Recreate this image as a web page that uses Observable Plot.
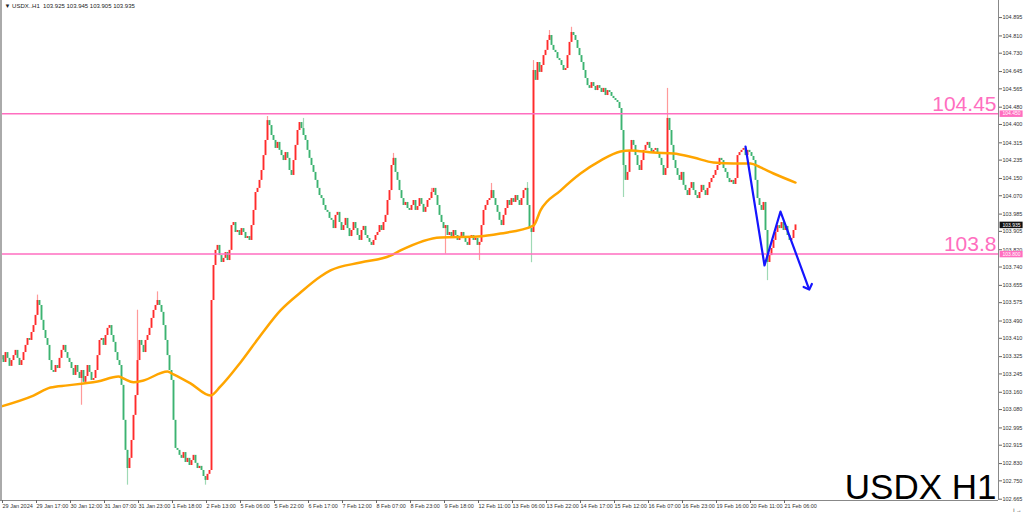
<!DOCTYPE html>
<html><head><meta charset="utf-8">
<script src="https://cdn.jsdelivr.net/npm/d3@7"></script>
<script src="https://cdn.jsdelivr.net/npm/@observablehq/plot@0.6"></script>
<style>html,body{margin:0;padding:0;background:#fff;overflow:hidden}</style>
</head><body><div id="chart"></div>
<script>
// Hourly closes, USDX H1 (one per bar, bar 0 = 29 Jan 2024)
const firstOpen = 103.31;
const closes = [
103.330,103.298,103.344,103.317,103.280,103.307,103.330,103.354,103.317,103.284,
103.307,103.344,103.377,103.409,103.400,103.437,103.469,103.516,103.585,103.562,
103.493,103.446,103.409,103.377,103.307,103.261,103.252,103.284,103.270,103.317,
103.354,103.377,103.344,103.317,103.298,103.270,103.238,103.284,103.252,103.224,
103.261,103.206,103.233,103.284,103.252,103.215,103.224,103.261,103.330,103.400,
103.409,103.377,103.423,103.456,103.469,103.423,103.391,103.344,103.307,103.284,
103.192,103.030,102.891,102.807,102.854,102.937,103.053,103.145,103.307,103.400,
103.377,103.344,103.400,103.423,103.456,103.502,103.539,103.562,103.585,103.562,
103.530,103.469,103.400,103.330,103.261,103.215,103.030,102.900,102.891,102.868,
102.854,102.881,102.835,102.854,102.821,102.844,102.868,102.831,102.807,102.817,
102.798,102.770,102.752,102.780,102.798,
103.585,103.747,103.817,103.840,103.793,103.761,103.780,103.807,103.770,103.817,
103.932,103.946,103.900,103.909,103.886,103.918,103.900,103.872,103.881,103.863,
103.932,104.002,104.085,104.104,104.141,104.187,104.256,104.326,104.418,104.395,
104.349,104.326,104.289,104.317,104.280,104.256,104.233,104.270,104.243,104.187,
104.164,104.233,104.303,104.372,104.409,104.381,104.349,104.326,104.280,104.243,
104.210,104.178,104.141,104.104,104.071,104.057,104.025,104.002,103.993,103.965,
103.956,103.918,103.979,103.993,103.946,103.909,103.932,103.965,103.918,103.881,
103.909,103.946,103.918,103.886,103.863,103.909,103.928,103.886,103.872,103.854,
103.840,103.863,103.886,103.900,103.932,103.909,103.946,103.979,104.048,104.094,
104.210,104.243,104.178,104.141,104.094,104.057,104.025,104.039,104.011,104.002,
104.025,104.048,104.002,104.020,104.057,104.030,103.993,104.016,104.048,104.057,
104.085,104.104,104.071,104.025,103.979,103.946,103.918,103.932,103.886,103.900,
103.872,103.909,103.886,103.863,103.881,103.900,103.872,103.854,103.840,103.872,
103.886,103.863,103.872,103.840,103.854,103.932,104.002,104.025,104.048,104.057,
104.094,104.057,104.025,103.993,103.956,103.932,103.979,104.011,104.048,104.025,
104.057,104.039,104.071,104.048,104.025,104.057,104.094,104.104,104.025,103.918,
103.900,104.650,
104.604,104.687,104.641,104.673,104.719,104.743,104.789,104.812,104.766,104.743,
104.733,104.705,104.696,104.673,104.650,104.659,104.719,104.780,104.826,104.812,
104.789,104.752,104.719,104.687,104.650,104.613,104.580,104.567,104.594,104.576,
104.557,104.580,104.567,104.548,104.567,104.534,104.557,104.548,104.530,104.520,
104.511,104.502,104.474,104.372,104.210,104.141,104.178,104.280,104.326,104.303,
104.256,104.210,104.187,104.233,104.280,104.303,104.317,104.289,104.270,104.280,
104.289,104.270,104.243,104.210,104.164,104.196,104.428,104.372,104.303,104.233,
104.196,104.164,104.141,104.178,104.118,104.094,104.071,104.104,104.131,104.094,
104.071,104.057,104.085,104.118,104.094,104.071,104.104,104.131,104.150,104.164,
104.187,104.210,104.243,104.233,104.196,104.178,104.150,104.131,104.141,104.122,
104.150,104.256,104.270,104.280,104.289,104.256,104.280,104.270,104.252,104.233,
104.141,104.057,104.025,104.002,104.039,103.909,103.761,103.793,103.826,103.863,
103.900,103.932,103.918,103.946,103.909,103.928,103.886,103.863,103.872,103.909,103.935
];
// Notable wicks: bar index, high, low
const wickBars  = [18, 40, 63, 68, 78, 102, 133, 151, 196, 215, 222, 239, 245, 263, 265, 266, 274, 285, 311, 333, 383];
const wickHighs = [103.61, null, null, 103.54, 103.625, null, 104.437, 104.428, 104.266, 104.104, null, null, 104.127, 104.131, null, 104.696, 104.835, 104.85, null, 104.567, null];
const wickLows  = [null, 103.10, 102.73, null, null, 102.73, null, null, null, null, 103.80, 103.77, null, null, 103.76, null, null, null, 104.062, null, 103.677];

// Moving average
const maBars = [0,16,24.5,33,41,48,58.5,61,66,71,83,86,94.5,104.5,109.5,119.5,129.5,139.5,149.5,159.5,164.5,179.5,194.5,199.5,219.5,238,249.5,266,269.5,279.5,289.5,299.5,309.5,314.5,326,336,346,356,366,374.5,379.5,386,397];
const maVals = [103.095,103.145,103.182,103.192,103.201,103.210,103.233,103.224,103.206,103.215,103.256,103.243,103.201,103.145,103.187,103.298,103.423,103.539,103.622,103.696,103.724,103.761,103.793,103.817,103.877,103.881,103.895,103.932,104.002,104.094,104.173,104.233,104.275,104.280,104.270,104.266,104.247,104.224,104.219,104.219,104.201,104.173,104.131];

// Projection arrow
const arrowBars = [372, 381.5, 389.5, 403.5];
const arrowVals = [104.298, 103.747, 103.997, 103.645];

// Levels
const levels = [104.45, 103.8];
const levelLabels = ["104.45", "103.8"];
const lastPrice = 103.935;

// Axis ticks
const yTicks = [104.895,104.810,104.730,104.645,104.565,104.480,104.400,104.315,104.235,104.150,104.070,103.985,103.905,103.820,103.740,103.655,103.575,103.490,103.410,103.325,103.245,103.160,103.080,102.995,102.915,102.830,102.750,102.665];
const xTickLabels = ["29 Jan 2024","29 Jan 17:00","30 Jan 12:00","31 Jan 07:00","31 Jan 23:00","1 Feb 18:00","2 Feb 13:00","5 Feb 06:00","5 Feb 22:00","6 Feb 17:00","7 Feb 12:00","8 Feb 07:00","8 Feb 23:00","9 Feb 18:00","12 Feb 11:00","13 Feb 06:00","13 Feb 22:00","14 Feb 17:00","15 Feb 12:00","16 Feb 07:00","16 Feb 23:00","19 Feb 16:00","20 Feb 11:00","21 Feb 06:00"];
const xTickBars = xTickLabels.map((_, k) => k * 17);

const header = "▼ USDX..H1  103.925 103.945 103.905 103.935";
const title = "USDX H1";

// build tables
const bars = closes.map((c, i) => ({i, open: i ? closes[i-1] : firstOpen, close: c}));
const wicks = wickBars.map((b, k) => {
  const o = bars[b].open, c = bars[b].close;
  return {i: b, hi: wickHighs[k] ?? Math.max(o, c), lo: wickLows[k] ?? Math.min(o, c), up: c >= o};
});
const ma = maBars.map((b, k) => ({i: b, v: maVals[k]}));
const arrow = arrowBars.map((b, k) => ({i: b, v: arrowVals[k]}));
const lv = levels.map((v, k) => ({v, label: levelLabels[k], tag: v.toFixed(3)}));

const RED = "#ff2b2b", GREEN = "#3cb371", PINK = "#ff6ec0";

const chart = Plot.plot({
  width: 1024, height: 514,
  marginTop: 0, marginLeft: 0, marginRight: 26, marginBottom: 14,
  x: {type: "linear", domain: [-0.5, 498.5], axis: null},
  y: {domain: [102.659, 104.974], axis: null},
  style: {fontFamily: "'Liberation Sans', Arial, sans-serif", fontSize: "6px", background: "#fff", overflow: "visible"},
  marks: [
    Plot.ruleX(wicks, {x: "i", y1: "lo", y2: "hi", stroke: d => d.up ? "#ff9a9a" : "#9fd9b5", strokeWidth: 1.2}),
    Plot.ruleX(bars, {x: "i", y1: "open", y2: "close", stroke: d => d.close >= d.open ? RED : GREEN, strokeWidth: 1.9}),
    Plot.line(ma, {x: "i", y: "v", stroke: "#ffa500", strokeWidth: 2.5, curve: "monotone-x"}),
    Plot.ruleY(lv, {y: "v", stroke: PINK, strokeWidth: 1.5}),
    Plot.text(lv, {x: 497.5, y: "v", text: "label", textAnchor: "end", lineAnchor: "bottom", dy: -3, fill: PINK, fontSize: 21}),
    Plot.line(arrow, {x: "i", y: "v", stroke: "#1515ff", strokeWidth: 2.2, markerEnd: "arrow"}),
    Plot.ruleX([498.5], {stroke: "#888", strokeWidth: 1}),
    Plot.ruleX([-0.5], {stroke: "#aaa", strokeWidth: 3}),
    Plot.ruleY([102.659], {x1: -0.5, x2: 498.5, stroke: "#888", strokeWidth: 1}),
    Plot.axisY(yTicks, {anchor: "right", tickSize: 3, tickPadding: 1, tickFormat: d3.format(".3f"), fontSize: 5.5, stroke: "#666", fill: "#333"}),
    Plot.axisX(xTickBars, {anchor: "bottom", tickSize: 3, tickPadding: 1, tickFormat: (d, k) => xTickLabels[k], textAnchor: "start", dx: 1, fontSize: 5.5, stroke: "#666", fill: "#333"}),
    Plot.ruleY(lv, {y: "v", x1: 499.3, x2: 510.8, stroke: PINK, strokeWidth: 6.5}),
    Plot.text(lv, {y: "v", x: 505, text: "tag", fill: "#fff", fontSize: 5}),
    Plot.ruleY([lastPrice], {x1: 499.3, x2: 510.8, stroke: "#111", strokeWidth: 6.5}),
    Plot.text([lastPrice], {y: d => d, x: 505, text: d => d.toFixed(3), fill: "#fff", fontSize: 5}),
    Plot.text([header], {frameAnchor: "top-left", dx: 4, dy: 3, fill: "#222", fontSize: 6}),
    Plot.text([title], {x: 498, y: 102.665, textAnchor: "end", lineAnchor: "bottom", fill: "#000", fontSize: 35, dx: -1})
  ]
});
document.getElementById("chart").appendChild(chart);
</script>
</body></html>
